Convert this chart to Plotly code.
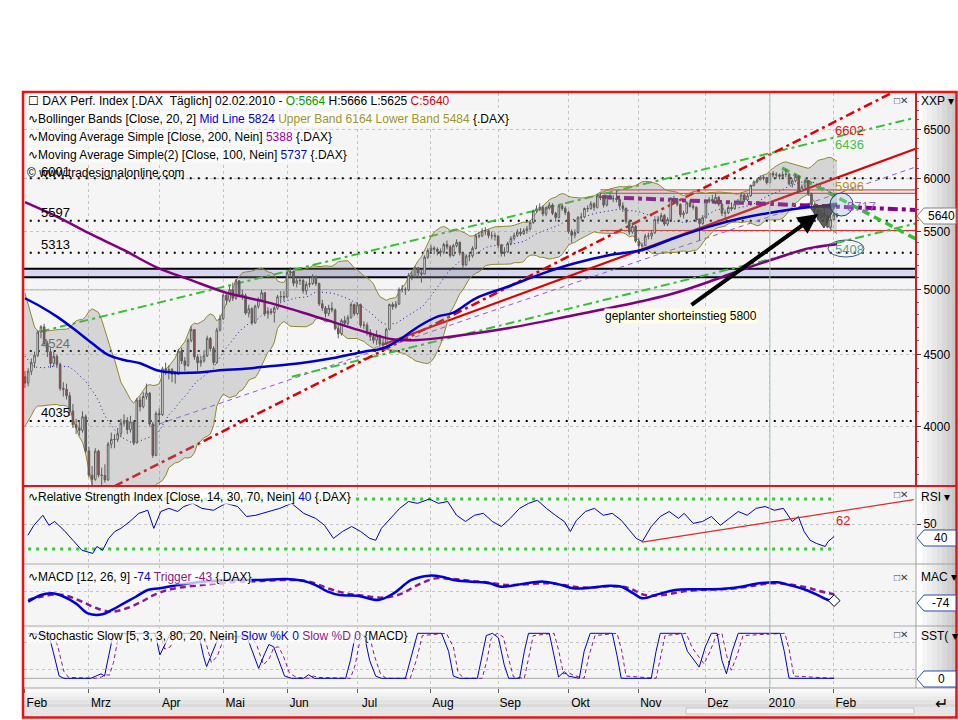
import math
import plotly.graph_objects as go

FONT = "Liberation Sans, Arial, sans-serif"
W, H = 958, 720

# ------------------------------------------------------------------ data
month_idx = [0, 20, 42, 62, 82, 104, 127, 148, 170, 192, 213, 233, 253]
month_lbl = ["Feb", "Mrz", "Apr", "Mai", "Jun", "Jul", "Aug", "Sep", "Okt", "Nov", "Dez", "2010", "Feb"]

# closes of the 19 sessions before the first bar (only used for the 20-day Bollinger window)
warmup_close = [5026, 4937, 4880, 4783, 4705, 4620, 4423, 4367, 4412, 4409, 4305, 4240, 4236, 4181, 4338, 4378, 4487, 4388, 4338]

close = [4294, 4377, 4438, 4493, 4666, 4707, 4580, 4520, 4434, 4485, 4427, 4257, 4250, 4206, 4102, 4011, 3991, 3974, 4064, 3843,
         3694, 3669, 3842, 3695, 3692, 3666, 3886, 3917, 3916, 3953, 4021, 4038, 3979, 4030, 3895, 4176, 4131, 4200, 4224, 4016, 3815, 4085,
         4077, 4395, 4384, 4389, 4355, 4356, 4524, 4452, 4420, 4604, 4686, 4481, 4439, 4453, 4490, 4619, 4544, 4440, 4682, 4770,
         4957, 4916, 5001, 4932, 5075, 4962, 4954, 4814, 4848, 4738, 4869, 4918, 4977, 4810, 4828, 4818, 4853, 4944, 4946, 4941,
         5144, 5152, 5054, 5075, 5077, 4993, 5045, 5052, 5107, 5052, 4888, 4854, 4811, 4853, 4839, 4693, 4654, 4755, 4734, 4778, 4882, 4809,
         4880, 4719, 4720, 4667, 4633, 4605, 4640, 4576, 4586, 4688, 4882, 4865, 4885, 5003, 5002, 5000, 5120, 5110, 5183, 5140, 5132, 5274, 5332,
         5353, 5343, 5324, 5318, 5385, 5364, 5289, 5375, 5404, 5310, 5207, 5284, 5286, 5351, 5462, 5461, 5504, 5507, 5465, 5462, 5458,
         5380, 5309, 5320, 5394, 5438, 5466, 5495, 5480, 5508, 5525, 5581, 5688, 5709, 5721, 5660, 5716, 5744, 5667, 5628, 5736, 5710, 5675,
         5500, 5467, 5492, 5630, 5633, 5711, 5710, 5756, 5722, 5829, 5811, 5743, 5819, 5809, 5803, 5797, 5736, 5713, 5591, 5496, 5547, 5415,
         5373, 5377, 5459, 5460, 5487, 5608, 5598, 5646, 5568, 5610, 5805, 5796, 5750, 5653, 5668, 5765, 5731, 5723, 5614, 5573, 5625,
         5776, 5796, 5781, 5817, 5751, 5667, 5671, 5721, 5709, 5755, 5771, 5839, 5791, 5831, 5931, 5966, 5985, 6010, 6002, 5957,
         6048, 6032, 6034, 6019, 6037, 6041, 5944, 5976, 6019, 5875, 5918, 5976, 5851, 5746, 5695, 5631, 5668, 5643, 5540, 5608,
         5654, 5640]

open_ = [4338, 4294, 4377, 4438, 4493, 4666, 4707, 4580, 4520, 4434, 4485, 4427, 4257, 4250, 4206, 4102, 4011, 3991, 3974, 4064,
         3843, 3694, 3669, 3842, 3695, 3692, 3666, 3886, 3917, 3916, 3953, 4021, 4038, 3979, 4030, 3895, 4176, 4131, 4200, 4224, 4016, 3815,
         4085, 4077, 4395, 4384, 4389, 4355, 4356, 4524, 4452, 4420, 4604, 4686, 4481, 4439, 4453, 4490, 4619, 4544, 4440, 4682,
         4770, 4957, 4916, 5001, 4932, 5075, 4962, 4954, 4814, 4848, 4738, 4869, 4918, 4977, 4810, 4828, 4818, 4853, 4944, 4946,
         4941, 5144, 5152, 5054, 5075, 5077, 4993, 5045, 5052, 5107, 5052, 4888, 4854, 4811, 4853, 4839, 4693, 4654, 4755, 4734, 4778, 4882,
         4809, 4880, 4719, 4720, 4667, 4633, 4605, 4640, 4576, 4586, 4688, 4882, 4865, 4885, 5003, 5002, 5000, 5120, 5110, 5183, 5140, 5132, 5274,
         5332, 5353, 5343, 5324, 5318, 5385, 5364, 5289, 5375, 5404, 5310, 5207, 5284, 5286, 5351, 5462, 5461, 5504, 5507, 5465, 5462,
         5458, 5380, 5309, 5320, 5394, 5438, 5466, 5495, 5480, 5508, 5525, 5581, 5688, 5709, 5721, 5660, 5716, 5744, 5667, 5628, 5736, 5710,
         5675, 5500, 5467, 5492, 5630, 5633, 5711, 5710, 5756, 5722, 5829, 5811, 5743, 5819, 5809, 5803, 5797, 5736, 5713, 5591, 5496, 5547,
         5415, 5373, 5377, 5459, 5460, 5487, 5608, 5598, 5646, 5568, 5610, 5805, 5796, 5750, 5653, 5668, 5765, 5731, 5723, 5614, 5573,
         5625, 5776, 5796, 5781, 5817, 5751, 5667, 5671, 5721, 5709, 5755, 5771, 5839, 5791, 5831, 5931, 5966, 5985, 6010, 6002,
         5957, 6048, 6032, 6034, 6019, 6037, 6041, 5944, 5976, 6019, 5875, 5918, 5976, 5851, 5746, 5695, 5631, 5668, 5643, 5540,
         5608, 5664]

high = [4380, 4400, 4470, 4520, 4680, 4720, 4730, 4600, 4545, 4520, 4500, 4440, 4300, 4290, 4230, 4150, 4050, 4030, 4100, 4080,
        3870, 3750, 3860, 3850, 3740, 3760, 3900, 3960, 3950, 3990, 4050, 4080, 4060, 4070, 4040, 4190, 4200, 4230, 4290, 4230, 4030, 4100,
        4120, 4410, 4440, 4420, 4400, 4380, 4540, 4550, 4480, 4620, 4710, 4690, 4500, 4490, 4530, 4640, 4630, 4560, 4700, 4800,
        4970, 4980, 5030, 5060, 5090, 5080, 5000, 4970, 4880, 4860, 4880, 4940, 5000, 4980, 4860, 4850, 4870, 4960, 4990, 4990,
        5150, 5190, 5160, 5110, 5110, 5090, 5070, 5100, 5130, 5120, 5060, 4920, 4870, 4880, 4900, 4850, 4720, 4770, 4790, 4800, 4900, 4890,
        4900, 4890, 4750, 4740, 4690, 4650, 4680, 4650, 4620, 4700, 4890, 4900, 4910, 5020, 5040, 5020, 5140, 5150, 5200, 5190, 5170, 5290, 5350,
        5380, 5370, 5360, 5350, 5400, 5420, 5380, 5390, 5430, 5410, 5320, 5300, 5320, 5370, 5480, 5500, 5530, 5540, 5520, 5500, 5490,
        5470, 5390, 5360, 5410, 5460, 5490, 5520, 5530, 5530, 5550, 5600, 5700, 5740, 5760, 5740, 5730, 5770, 5760, 5680, 5750, 5760, 5730,
        5690, 5520, 5520, 5640, 5670, 5720, 5740, 5780, 5770, 5850, 5860, 5820, 5830, 5850, 5840, 5880, 5810, 5770, 5720, 5610, 5580, 5560,
        5440, 5400, 5480, 5490, 5510, 5620, 5640, 5670, 5660, 5630, 5820, 5830, 5810, 5760, 5690, 5780, 5790, 5760, 5730, 5620, 5650,
        5790, 5820, 5840, 5850, 5830, 5760, 5700, 5740, 5770, 5770, 5800, 5860, 5850, 5850, 5940, 5980, 6000, 6030, 6030, 6010,
        6060, 6070, 6060, 6050, 6070, 6094, 6050, 5990, 6040, 6030, 5940, 5990, 5980, 5860, 5760, 5700, 5700, 5720, 5660, 5640,
        5680, 5666]

low = [4260, 4270, 4350, 4400, 4480, 4620, 4560, 4480, 4400, 4410, 4400, 4240, 4200, 4180, 4070, 3990, 3950, 3940, 3960, 3830,
       3680, 3630, 3660, 3680, 3590, 3650, 3660, 3860, 3860, 3900, 3930, 4000, 3950, 3960, 3880, 3890, 4100, 4120, 4180, 4000, 3800, 3810,
       4010, 4070, 4350, 4320, 4300, 4290, 4350, 4430, 4380, 4410, 4590, 4460, 4380, 4410, 4440, 4480, 4520, 4420, 4430, 4670,
       4760, 4880, 4900, 4910, 4920, 4940, 4920, 4800, 4780, 4720, 4730, 4850, 4900, 4790, 4770, 4800, 4740, 4840, 4900, 4910,
       4940, 5100, 5030, 5020, 5040, 4970, 4960, 5020, 5040, 5030, 4870, 4830, 4780, 4790, 4820, 4680, 4620, 4640, 4710, 4720, 4770, 4790,
       4800, 4700, 4690, 4640, 4600, 4580, 4570, 4560, 4540, 4570, 4680, 4840, 4850, 4880, 4980, 4960, 4990, 5080, 5100, 5100, 5060, 5130, 5260,
       5320, 5300, 5290, 5280, 5300, 5340, 5270, 5280, 5360, 5290, 5180, 5200, 5240, 5270, 5340, 5440, 5450, 5470, 5440, 5430, 5420,
       5350, 5280, 5280, 5310, 5380, 5420, 5450, 5460, 5470, 5480, 5510, 5570, 5670, 5690, 5640, 5640, 5700, 5650, 5590, 5620, 5690, 5650,
       5480, 5400, 5440, 5480, 5600, 5620, 5680, 5700, 5690, 5710, 5790, 5720, 5730, 5790, 5770, 5770, 5710, 5680, 5570, 5470, 5480, 5400,
       5330, 5320, 5370, 5430, 5430, 5480, 5570, 5590, 5550, 5550, 5600, 5770, 5730, 5630, 5620, 5660, 5720, 5700, 5590, 5420, 5560,
       5620, 5760, 5760, 5750, 5730, 5640, 5620, 5660, 5690, 5700, 5740, 5760, 5770, 5780, 5820, 5920, 5950, 5980, 5980, 5940,
       5950, 6010, 6000, 5990, 6000, 6010, 5930, 5910, 5960, 5860, 5870, 5900, 5830, 5720, 5650, 5600, 5610, 5620, 5530, 5520,
       5600, 5625]

# moving averages (session index, value)
sma200_day = [0, 10, 20, 31, 41, 52, 62, 68, 75, 86, 96, 106, 115, 123, 133, 151, 172, 195, 203, 214, 224, 235, 245, 254]
sma200_val = [5770, 5635, 5485, 5335, 5190, 5080, 4985, 4945, 4905, 4825, 4747, 4670, 4612, 4607, 4632, 4696, 4799, 4920, 4972, 5067, 5165, 5265, 5351, 5388]

sma100_day = [0, 5, 10, 15, 21, 26, 31, 36, 41, 47, 52, 57, 62, 68, 75, 86, 96, 106, 112, 117, 123, 129, 134, 141, 151, 162, 172, 183, 193, 203, 214, 224, 235, 245, 254]
sma100_val = [4932, 4864, 4786, 4696, 4582, 4496, 4459, 4435, 4387, 4367, 4367, 4374, 4387, 4394, 4410, 4435, 4471, 4520, 4545, 4607, 4708, 4786, 4817, 4932, 5026, 5137, 5222, 5293, 5337, 5440, 5544, 5620, 5681, 5722, 5737]

# horizontal levels
levels = [6001, 5597, 5313, 4524, 4035]
zone_lo, zone_hi = 5105, 5175
red_levels = [5887, 5855, 5510]
red_level_start = 180

# drawn trend lines (session index, price)
red_trend_day, red_trend_val = [111.6, 279.3], [4569, 6305]
red_dd_day, red_dd_val = [28, 279.3], [3628, 7049]
green_up_day, green_up_val = [4.9, 279.3], [4671, 6632]
green_lo_day, green_lo_val = [83.5, 279.3], [4339, 5578]
green_fall_day, green_fall_val = [236.8, 279.3], [6102, 5424]
purple_thin_day, purple_thin_val = [39.3, 279.3], [3997, 6119]
purple_thick_day, purple_thick_val = [180.5, 279.3], [5819, 5697]

# RSI (14)
rsi_day = [0.9, 2.8, 5.6, 7.5, 9.3, 12.2, 15, 17.8, 21.2, 22.5, 24.3, 26.2, 28.1, 30, 32.8, 35.6, 38.4, 40.3, 42.5, 45,
           47.8, 49.7, 52.5, 55.3, 59, 62.8, 66.5, 69.3, 72.2, 75.9, 79.7, 83.4, 87.2, 90.9, 93.7, 96.5, 99.3, 102.2, 105, 107.8,
           109.7, 111.5, 114.3, 117.2, 120, 122.8, 126.5, 129.3, 132.2, 135, 137.8, 140.6, 143.4, 146.2, 149, 151.8, 154.7, 157.5, 160.3, 163.1,
           165.9, 168.7, 170.6, 172.5, 175.3, 178.1, 180.9, 183.7, 186.5, 189.4, 191.2, 193.1, 195.9, 198.7, 201.5, 204.4, 206.2, 209, 211.9, 214.7,
           217.5, 220.3, 223.1, 225.9, 228.7, 231.5, 234.4, 237.2, 240, 241.9, 243.7, 245.6, 247.5, 250.3, 251.2, 253.1]
rsi_val = [41, 49, 57, 49, 52, 45, 37, 29, 26.5, 32, 29, 38.5, 44, 46.5, 52, 58.5, 61, 46.5, 60, 62.5,
           60, 64, 66.5, 62.5, 61, 66.5, 64, 56, 57, 60, 62.5, 66.5, 58.5, 54.5, 49, 38.5, 44, 48, 44, 38.5,
           37, 46.5, 54.5, 62.5, 68, 66.5, 70, 66.5, 68, 57, 52, 57, 58.5, 52, 48, 54.5, 62.5, 66.5, 69, 62.5,
           57, 52, 44, 53, 60, 62.5, 57, 58.5, 53, 44, 38.5, 36, 48, 56, 60, 54.5, 58.5, 50.5, 52, 56,
           49, 54.5, 60, 57, 62.5, 64, 61, 62.5, 52, 56, 44, 37, 34.5, 32, 36, 40]
rsi_trend_day, rsi_trend_val = [193, 278], [35.5, 69.5]

# MACD (12, 26, 9)
macd_day = [1, 5, 8.4, 12.2, 15.9, 19.7, 24.3, 27.2, 30.9, 34.7, 38.4, 42.2, 47.8, 55.3, 64.7, 74, 81.5, 87.2, 90.9, 94.7,
            98.4, 104, 110.6, 115.3, 120.9, 126.5, 130.3, 134, 139.7, 145.3, 149, 154.7, 162.2, 167.8, 171.5, 177.2, 182.8, 186.5, 190.3, 193.1,
            197.8, 203.4, 209, 214.7, 220.3, 224, 229.7, 235.3, 239, 242.8, 247.5, 251.2, 253.1]
macd_val = [-82, -31, -18, -44, -95, -172, -179, -146, -95, -44, 8, 21, 46, 72, 85, 85, 92, 77, 46, -5,
            -31, -36, -69, -18, 85, 118, 110, 85, 72, 59, 33, 51, 72, 46, 21, 26, 41, 33, -18, -56,
            -26, 8, 13, 13, 21, 33, 59, 67, 46, 21, -26, -69, -74]
trig_day = [1, 5, 10.3, 14, 17.8, 22.5, 27.2, 31.8, 36.5, 40.3, 45.9, 55.3, 64.7, 74, 83.4, 89, 94.7, 100.3, 105.9, 111.5,
            117.2, 122.8, 128.4, 134, 139.7, 145.3, 150.9, 156.5, 164, 169.7, 175.3, 182.8, 188.4, 194, 199.7, 205.3, 210.9, 216.5, 222.2, 227.8,
            233.4, 239, 244.7, 248.4, 253.1]
trig_val = [-69, -44, -26, -44, -82, -133, -159, -133, -82, -31, 15, 46, 67, 77, 85, 72, 21, -18, -36, -51,
            -26, 46, 97, 92, 77, 64, 46, 51, 59, 41, 26, 36, 26, -31, -31, -5, 8, 13, 21, 41,
            59, 51, 26, 0, -25]

# Stochastic Slow of MACD
k_day = [1, 7.5, 8.8, 10.7, 12.2, 20.6, 22.5, 23.8, 24.9, 26.2, 27.5, 29, 40.7, 42.2, 44, 45.5, 54.3, 55.8, 56.8, 58.7,
         60.5, 69.3, 71.2, 73.1, 75, 76.3, 77.8, 79.3, 81.2, 83.4, 87.2, 88.7, 90.5, 100.3, 101.8, 103.3, 105, 106.3, 107.8, 109.7,
         111.5, 119, 120.9, 122.8, 130.3, 132.5, 134, 135.9, 141.5, 143, 144.3, 146.2, 148.1, 149.9, 151.3, 154.7, 156.2, 157.5, 164, 165.5,
         166.9, 168.7, 170, 173.4, 174.9, 176.8, 183.7, 185.2, 186.5, 195.9, 197.4, 198.7, 205.3, 207.2, 210.9, 212.8, 214.7, 216.5, 218, 219.4,
         221.2, 223.1, 236.2, 237.5, 239, 253.1]
k_val = [100, 95, 60, 5, 0, 0, 6, 10, 5, 50, 95, 100, 100, 52, 80, 100, 100, 50, 26, 60,
         90, 95, 60, 22, 55, 75, 70, 40, 5, 0, 0, 8, 0, 0, 40, 95, 100, 90, 40, 5,
         0, 0, 50, 100, 100, 60, 5, 0, 0, 50, 95, 100, 90, 30, 0, 0, 60, 100, 100, 50,
         3, 15, 5, 0, 60, 100, 100, 50, 0, 0, 60, 100, 100, 60, 25, 70, 100, 100, 40, 10,
         60, 100, 100, 60, 0, 0]
d_day = [2.5, 9, 10.3, 12.2, 13.7, 22.1, 24, 25.3, 26.4, 27.7, 29, 30.5, 42.2, 43.7, 45.5, 47, 55.8, 57.3, 58.3, 60.2,
         62, 70.8, 72.7, 74.6, 76.5, 77.8, 79.3, 80.8, 82.7, 84.9, 88.7, 90.2, 92, 101.8, 103.3, 104.8, 106.5, 107.8, 109.3, 111.2,
         113, 120.5, 122.4, 124.3, 131.8, 134, 135.5, 137.4, 143, 144.5, 145.8, 147.7, 149.6, 151.4, 152.8, 156.2, 157.7, 159, 165.5, 167,
         168.4, 170.2, 171.5, 174.9, 176.4, 178.3, 185.2, 186.7, 188, 197.4, 198.9, 200.2, 206.8, 208.7, 212.4, 214.3, 216.2, 218, 219.5, 220.9,
         222.7, 224.6, 237.7, 239, 240.5, 253.1]
d_val = [100, 97, 70, 15, 2, 0, 3, 8, 7, 35, 85, 98, 100, 65, 70, 98, 100, 60, 35, 50,
         85, 95, 70, 30, 45, 68, 70, 50, 12, 2, 0, 5, 2, 0, 30, 85, 98, 93, 50, 10,
         0, 0, 40, 95, 100, 70, 12, 0, 0, 40, 88, 100, 92, 40, 3, 0, 50, 95, 100, 60,
         10, 12, 7, 0, 50, 95, 100, 60, 5, 0, 50, 95, 100, 68, 32, 60, 95, 100, 50, 18,
         50, 95, 100, 65, 5, 0]

# ------------------------------------------------------------------ Bollinger (Close, 20, 2)
days = list(range(len(close)))
full = warmup_close + close
bb_mid, bb_up, bb_lo = [], [], []
for i in range(len(close)):
    win = full[i:i + 20]
    m = sum(win) / 20.0
    sd = math.sqrt(sum((v - m) ** 2 for v in win) / 20.0)
    bb_mid.append(m)
    bb_up.append(m + 2 * sd)
    bb_lo.append(m - 2 * sd)

# ------------------------------------------------------------------ helpers
def px(x):
    return x / W


def py(y):
    return 1 - y / H


def line_tr(x, y, color, width, dash=None, yaxis="y", shape="linear"):
    return go.Scatter(x=x, y=y, mode="lines", yaxis=yaxis, hoverinfo="skip", showlegend=False,
                      line=dict(color=color, width=width, dash=dash, shape=shape))


fig = go.Figure()

# ---- main panel, lower layer
for lv in levels:
    fig.add_trace(line_tr([-1, 280], [lv, lv], "black", 2, "2px,6px"))
fig.add_trace(line_tr([-1, 280], [5000, 5000], "#b4b4b4", 1))
fig.add_trace(line_tr([-1, 280], [zone_lo, zone_lo], "black", 2))
fig.add_trace(go.Scatter(x=[-1, 280], y=[zone_hi, zone_hi], mode="lines", fill="tonexty",
                         fillcolor="rgba(190,190,238,0.55)", line=dict(color="black", width=2),
                         hoverinfo="skip", showlegend=False))
for lv in red_levels:
    fig.add_trace(line_tr([red_level_start, 280], [lv, lv], "#e02020", 1))
fig.add_trace(line_tr(purple_thin_day, purple_thin_val, "#9a55e0", 1, "5px,4px"))
fig.add_trace(line_tr(green_up_day, green_up_val, "#33c133", 2, "9px,4px,3px,4px"))
fig.add_trace(line_tr(green_lo_day, green_lo_val, "#33c133", 2, "9px,4px,3px,4px"))
fig.add_trace(line_tr(red_dd_day, red_dd_val, "#e00000", 2.5, "9px,4px,3px,4px"))
fig.add_trace(line_tr(red_trend_day, red_trend_val, "#e00000", 2.2))
fig.add_trace(line_tr(purple_thick_day, purple_thick_val, "#8b008b", 4, "10px,4px,4px,4px"))
fig.add_trace(line_tr(green_fall_day, green_fall_val, "#33c133", 3.5, "8px,5px"))

# Bollinger band
fig.add_trace(line_tr(days, bb_lo, "#8f8a2a", 1))
fig.add_trace(go.Scatter(x=days, y=bb_up, mode="lines", fill="tonexty", fillcolor="rgba(140,140,140,0.30)",
                         line=dict(color="#8f8a2a", width=1), hoverinfo="skip", showlegend=False))
fig.add_trace(line_tr(days, bb_mid, "#1a1aa8", 1, "1px,3px"))

# ---- main panel, upper layer (overlay axis)
fig.add_trace(go.Candlestick(x=days, open=open_, high=high, low=low, close=close, xaxis="x", yaxis="y5",
                             increasing=dict(fillcolor="white", line=dict(color="#5c5c5c", width=1)),
                             decreasing=dict(fillcolor="#a24a48", line=dict(color="#5c5c5c", width=1)),
                             whiskerwidth=0, hoverinfo="skip", showlegend=False))
fig.add_trace(line_tr(sma200_day, sma200_val, "#800080", 2.5, yaxis="y5", shape="spline"))
fig.add_trace(line_tr(sma100_day, sma100_val, "#0000cc", 2.5, yaxis="y5", shape="spline"))

# ---- RSI panel
fig.add_trace(line_tr([1, 253], [70, 70], "#33cc33", 3, "3px,5px", yaxis="y2"))
fig.add_trace(line_tr([1, 253], [30, 30], "#33cc33", 3, "3px,5px", yaxis="y2"))
fig.add_trace(line_tr(rsi_day, rsi_val, "#0000c0", 1, yaxis="y2"))
fig.add_trace(line_tr(rsi_trend_day, rsi_trend_val, "#e02828", 1.2, yaxis="y2"))

# ---- MACD panel
fig.add_trace(line_tr(trig_day, trig_val, "#8a1a8a", 2.5, "6px,4px", yaxis="y3", shape="spline"))
fig.add_trace(line_tr(macd_day, macd_val, "#0000dd", 2.5, yaxis="y3", shape="spline"))
fig.add_trace(go.Scatter(x=[macd_day[-1]], y=[macd_val[-1]], mode="markers", yaxis="y3", hoverinfo="skip",
                         showlegend=False, marker=dict(symbol="diamond", size=9, color="white",
                                                        line=dict(color="black", width=1))))

# ---- Stochastic panel
fig.add_trace(line_tr([-1, 280], [0, 0], "#a8a8a8", 1, yaxis="y4"))
fig.add_trace(line_tr(d_day, d_val, "#8a1a8a", 1, "4px,3px", yaxis="y4"))
fig.add_trace(line_tr(k_day, k_val, "#0000c8", 1, yaxis="y4"))

# ------------------------------------------------------------------ axes
xr = [-0.3, 278.7]
dom_x = [px(24), px(916)]
main_lo, main_hi = 3.56051, 3.83868
minor_vals = [v for v in range(3700, 6900, 100) if v % 500 != 0]
grid = dict(showgrid=True, gridcolor="#c4c4c4", griddash="dot", gridwidth=1, zeroline=False)

fig.update_layout(
    width=W, height=H, autosize=False, margin=dict(l=0, r=0, t=0, b=0),
    paper_bgcolor="white", plot_bgcolor="#f5f5f5", showlegend=False,
    font=dict(family=FONT, size=12, color="black"),
    xaxis=dict(domain=dom_x, range=xr, anchor="y4", tickmode="array", tickvals=month_idx, ticktext=month_lbl,
               ticks="outside", ticklen=4, tickcolor="#606060", ticklabelshift=12,
               tickfont=dict(family=FONT, size=12, color="black"), rangeslider=dict(visible=False),
               showline=False, **grid),
    yaxis=dict(domain=[py(485), py(93)], type="log", range=[main_lo, main_hi], side="right", anchor="x",
               tickmode="array", tickvals=[4000, 4500, 5000, 5500, 6000, 6500],
               ticktext=["4000", "4500", "5000", "5500", "6000", "6500"],
               ticks="outside", ticklen=4, tickcolor="#404040",
               minor=dict(tickmode="array", tickvals=minor_vals, ticks="outside", ticklen=2, tickcolor="#606060", showgrid=False),
               tickfont=dict(family=FONT, size=12, color="black"), showline=False, **grid),
    yaxis5=dict(type="log", range=[main_lo, main_hi], overlaying="y", anchor="x", side="right",
                showticklabels=False, showgrid=False, zeroline=False, ticks=""),
    yaxis2=dict(domain=[py(563), py(487)], range=[18.8, 79.6], side="right", anchor="x",
                tickmode="array", tickvals=[50], ticktext=["50"], ticks="outside", ticklen=4, tickcolor="#404040",
                tickfont=dict(family=FONT, size=12, color="black"), showline=False, **grid),
    yaxis3=dict(domain=[py(625), py(565)], range=[-261.5, 200], side="right", anchor="x",
                tickmode="array", tickvals=[0], showticklabels=False, ticks="", showline=False, **grid),
    yaxis4=dict(domain=[py(688), py(627)], range=[-21.5, 114], side="right", anchor="x",
                tickmode="array", tickvals=[20, 80], showticklabels=False, ticks="", showline=False, **grid),
)

# ------------------------------------------------------------------ shapes
shapes = []


def rect(x0, y0, x1, y1, fill, line_color=None, lw=0, layer="below"):
    return dict(type="rect", xref="paper", yref="paper", x0=px(x0), x1=px(x1), y0=py(y1), y1=py(y0),
                fillcolor=fill, line=dict(color=line_color or fill, width=lw), layer=layer)


def seg(x0, y0, x1, y1, color, lw, layer="above"):
    return dict(type="line", xref="paper", yref="paper", x0=px(x0), x1=px(x1), y0=py(y0), y1=py(y1),
                line=dict(color=color, width=lw), layer=layer)


def path(points, fill, line_color, lw=1, layer="above"):
    d = "M " + " L ".join("%.5f %.5f" % (px(a), py(b)) for a, b in points) + " Z"
    return dict(type="path", xref="paper", yref="paper", path=d, fillcolor=fill,
                line=dict(color=line_color, width=lw), layer=layer)


# right axis gradient
greys = ["#fdfdfd", "#f6f6f6", "#efefef", "#e8e8e8", "#e0e0e0", "#d8d8d8", "#d0d0d0", "#c8c8c8"]
for k, g in enumerate(greys):
    shapes.append(rect(917 + k * 5, 93, 917 + (k + 1) * 5, 688, g))
# bottom axis strip
bot = ["#fafafa", "#f2f2f2", "#eaeaea", "#e2e2e2", "#dadada"]
for k, g in enumerate(bot):
    shapes.append(rect(23, 689 + k * 3.6, 957, 689 + (k + 1) * 3.6, g))
shapes.append(rect(23, 707, 957, 717, "#e6e6e6"))
shapes.append(rect(686, 708, 914, 714, "#f5f5f5", "#c4c4c4", 1))

# year separator
shapes.append(dict(type="line", xref="x", yref="paper", x0=233, x1=233, y0=py(688), y1=py(93),
                   line=dict(color="#a9c2a9", width=1), layer="above"))

# panel separators
for yy in (564, 626, 688):
    shapes.append(seg(23, yy, 957, yy, "#a0a0a0", 1))
shapes.append(seg(916, 486, 916, 688, "#a0a0a0", 1))
# red frames
shapes.append(seg(916, 92, 916, 486, "#ee1111", 2))
shapes.append(seg(23, 486, 957, 486, "#ee1111", 2))
shapes.append(dict(type="rect", xref="paper", yref="paper", x0=px(23), x1=px(956.5), y0=py(717.5), y1=py(92),
                   line=dict(color="#ee1111", width=2.5), fillcolor="rgba(0,0,0,0)", layer="above"))

# chart drawings at the right end
shapes.append(path([(810, 207), (837, 203), (824, 228)], "rgba(70,70,70,0.85)", "#404040"))
shapes.append(dict(type="circle", xref="paper", yref="paper", x0=px(830), x1=px(853), y0=py(216), y1=py(193),
                   fillcolor="rgba(170,205,235,0.35)", line=dict(color="#203a80", width=1), layer="above"))
shapes.append(dict(type="circle", xref="paper", yref="paper", x0=px(828), x1=px(864), y0=py(257), y1=py(240),
                   fillcolor="rgba(0,0,0,0)", line=dict(color="#3a5a7a", width=1), layer="above"))

# value markers on the right axis
def marker(yc, border):
    return path([(917, yc), (924, yc - 8), (956, yc - 8), (956, yc + 8), (924, yc + 8)], "white", border, 1)


shapes.append(marker(216, "#808080"))
shapes.append(marker(538, "#2848b8"))
shapes.append(marker(603, "#2848b8"))
shapes.append(marker(679, "#2848b8"))

fig.update_layout(shapes=shapes)

# ------------------------------------------------------------------ annotations
anns = []


def ann(x, y, text, color="black", size=12, xanchor="left", bg=None):
    d = dict(x=px(x), y=py(y), xref="paper", yref="paper", text=text, showarrow=False, xanchor=xanchor,
             yanchor="middle", font=dict(family=FONT, size=size, color=color), borderpad=0)
    if bg:
        d["bgcolor"] = bg
    return d


BG = "rgba(255,255,255,0.72)"
anns.append(ann(27, 101, "☐ DAX Perf. Index [.DAX \u00a0Täglich] 02.02.2010 - <span style='color:#00a000'>O:5664</span> "
                         "H:5666 L:5625 <span style='color:#e00000'>C:5640</span>", bg=BG))
anns.append(ann(27, 119, "∿Bollinger Bands [Close, 20, 2] <span style='color:#0000dd'>Mid Line 5824</span> "
                         "<span style='color:#a0962a'>Upper Band 6164 Lower Band 5484</span> {.DAX}", bg=BG))
anns.append(ann(27, 137, "∿Moving Average Simple [Close, 200, Nein] <span style='color:#990099'>5388</span> {.DAX}", bg=BG))
anns.append(ann(27, 155, "∿Moving Average Simple(2) [Close, 100, Nein] <span style='color:#0000dd'>5737</span> {.DAX}", bg=BG))
anns.append(ann(26, 173, "© www.tradesignalonline.com"))

level_y = {6001: 171, 5597: 212, 5313: 244, 4524: 343, 4035: 412}
for lv in levels:
    anns.append(ann(40, level_y[lv], str(lv), color="#6e6e6e" if lv == 4524 else "black", size=13))

anns.append(ann(834, 130, "6602", color="#e01010", size=13))
anns.append(ann(834, 145, "6436", color="#44c044", size=13))
anns.append(ann(834, 187, "5996", color="#b8902a", size=13))
anns.append(ann(846, 207, "5717", color="#9966cc", size=13))
anns.append(ann(834, 249, "5408", color="#5f9f8f", size=13))

anns.append(ann(604, 316, "geplanter shorteinstieg 5800", bg="#ffffe6"))
anns.append(dict(x=px(818), y=py(214), xref="paper", yref="paper", ax=-128, ay=92, axref="pixel", ayref="pixel",
                 text="", showarrow=True, arrowhead=2, arrowsize=1, arrowwidth=4, arrowcolor="black"))

# panel legends
anns.append(ann(27, 497, "∿Relative Strength Index [Close, 14, 30, 70, Nein] <span style='color:#0000dd'>40</span> {.DAX}", bg=BG))
anns.append(ann(835, 520, "62", color="#e02020", size=13))
anns.append(ann(27, 577, "∿MACD [12, 26, 9] <span style='color:#0000dd'>-74</span> "
                         "<span style='color:#8a1a8a'>Trigger -43</span> {.DAX}", bg=BG))
anns.append(ann(27, 636, "∿Stochastic Slow [5, 3, 3, 80, 20, Nein] <span style='color:#0000dd'>Slow %K 0</span> "
                         "<span style='color:#8a1a8a'>Slow %D 0</span> {MACD}", bg=BG))

# right side captions and markers
for yy, t in ((101, "XXP ▾"), (497, "RSI ▾"), (577, "MAC ▾"), (636, "SST( ▾")):
    anns.append(ann(920, yy, t, size=12))
for yy in (101, 494, 577, 634):
    anns.append(ann(893, yy, "□✕", color="#404040", size=10))
anns.append(ann(941, 216, "5640", xanchor="center"))
anns.append(ann(941, 538, "40", xanchor="center"))
anns.append(ann(941, 603, "-74", xanchor="center"))
anns.append(ann(941, 679, "0", xanchor="center"))
anns.append(ann(941, 703, "↵", size=16, xanchor="center"))

fig.update_layout(annotations=anns)

fig.write_html("out.html", config={"displayModeBar": False, "staticPlot": False},
               post_script="document.body.style.margin='0px';document.body.style.overflow='hidden';")
